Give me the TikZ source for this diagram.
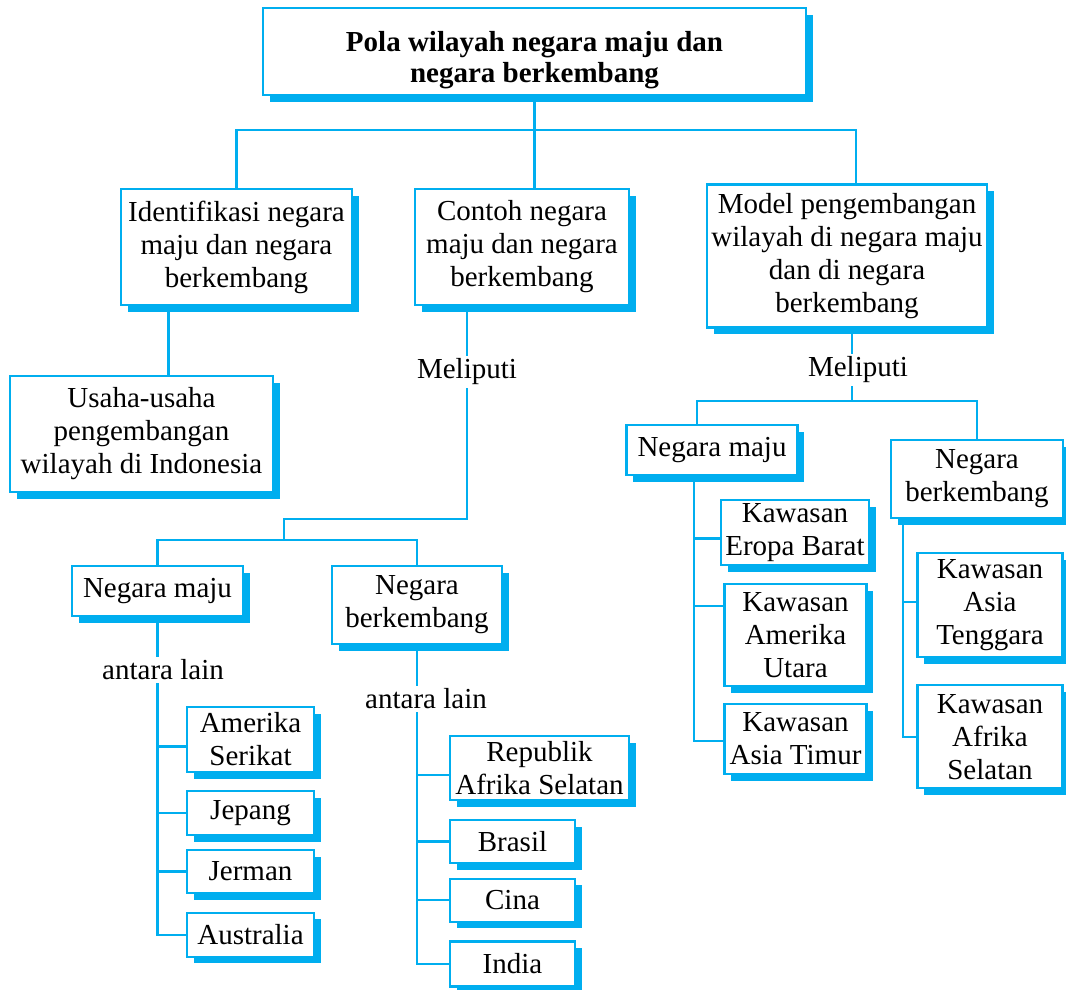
\documentclass[tikz,border=0pt]{standalone}
\usepackage{fontspec}
\setmainfont{Liberation Serif}
\usepackage{xcolor}
\usetikzlibrary{shadows,calc}
\definecolor{boxcyan}{RGB}{0,174,239}

\begin{document}
\begin{tikzpicture}[x=1pt,y=-1pt,
  font=\fontsize{29}{33}\selectfont,
  box/.style={draw=boxcyan,line width=2.2pt,fill=white,inner sep=0pt,align=center,
    drop shadow={shadow xshift=6.5pt,shadow yshift=-6.5pt,fill=boxcyan,opacity=1}},
  link/.style={draw=boxcyan,line width=2.2pt},
  lbl/.style={inner sep=3pt}]
  \useasboundingbox (0,0) rectangle (1066,989);
  % top level
  \node[box,minimum width=543pt,minimum height=87pt,text height=68pt,
    font=\bfseries\fontsize{29}{31}\selectfont]
    (title) at (534.5,51.5) {Pola wilayah negara maju dan\\negara berkembang};
  \node[box,minimum width=231pt,minimum height=116pt] (iden) at (236.5,247)
    {Identifikasi negara\\maju dan negara\\berkembang};
  \node[box,minimum width=214pt,minimum height=116pt] (contoh) at (522,247)
    {Contoh negara\\maju dan negara\\berkembang};
  \node[box,minimum width=280pt,minimum height=143pt] (model) at (847,256)
    {Model pengembangan\\wilayah di negara maju\\dan di negara\\berkembang};
  \node[box,minimum width=263pt,minimum height=116pt] (usaha) at (141.5,434)
    {Usaha-usaha\\pengembangan\\wilayah di Indonesia};
  % middle branch
  \node[lbl] (mel1) at (467,372) {Meliputi};
  \node[box,minimum width=171pt,minimum height=50pt] (nmL) at (157.5,591) {Negara maju};
  \node[box,minimum width=170pt,minimum height=78pt] (nbL) at (417,605) {Negara\\berkembang};
  \node[lbl] (ant1) at (163,670) {antara lain};
  \node[lbl] (ant2) at (426,699) {antara lain};
  \node[box,minimum width=127pt,minimum height=65pt] (amerika) at (250.5,739.5) {Amerika\\Serikat};
  \node[box,minimum width=127pt,minimum height=44pt] (jepang) at (250.5,813) {Jepang};
  \node[box,minimum width=127pt,minimum height=43pt] (jerman) at (250.5,871.5) {Jerman};
  \node[box,minimum width=127pt,minimum height=44pt] (australia) at (250.5,934.7) {Australia};
  \node[box,minimum width=179pt,minimum height=64pt] (republik) at (539.5,768) {Republik\\Afrika Selatan};
  \node[box,minimum width=125pt,minimum height=43pt] (brasil) at (512.5,841.5) {Brasil};
  \node[box,minimum width=125pt,minimum height=43pt] (cina) at (512.5,900.3) {Cina};
  \node[box,minimum width=125pt,minimum height=45pt] (india) at (512.5,964) {India};
  % right branch
  \node[lbl] (mel2) at (858,370) {Meliputi};
  \node[box,minimum width=171pt,minimum height=50pt] (nmR) at (712,450) {Negara maju};
  \node[box,minimum width=172pt,minimum height=78pt] (nbR) at (977,479) {Negara\\berkembang};
  \node[box,minimum width=148pt,minimum height=65pt] (eropa) at (795,532.5) {Kawasan\\Eropa Barat};
  \node[box,minimum width=142pt,minimum height=102pt] (amut) at (795.5,635) {Kawasan\\Amerika\\Utara};
  \node[box,minimum width=142pt,minimum height=70pt] (astim) at (795.5,739) {Kawasan\\Asia Timur};
  \node[box,minimum width=145pt,minimum height=104pt] (tenggara) at (990,605) {Kawasan\\Asia\\Tenggara};
  \node[box,minimum width=145pt,minimum height=103pt] (afsel) at (990,736.7) {Kawasan\\Afrika\\Selatan};

  % connectors
  \coordinate (top) at (534.5,130);
  \draw[link] (title) -- (top);
  \draw[link] (iden.north) |- (top) -| ([xshift=9pt]model.north);
  \draw[link] (top) -- (top |- contoh.north);
  \coordinate (u1) at ([xshift=-68pt]iden.south);
  \draw[link] (u1) -- (u1 |- usaha.north);

  \draw[link] (mel1 |- contoh.south) -- (mel1.north);
  \coordinate (j2) at (467,519);
  \coordinate (j3) at (284,540);
  \draw[link] (mel1.south) -- (j2) -| (j3);
  \draw[link] (nmL.north) |- (j3) -| (nbL.north);
  \draw[link] (nmL.south) -- (nmL.south |- ant1.north);
  \draw[link] (nmL.south |- ant1.south) |- (australia.west);
  \draw[link] ([yshift=-7pt]amerika.west) -- ([yshift=-7pt]amerika.west -| nmL.south);
  \foreach \n in {jepang,jerman}
    \draw[link] (\n.west) -- (\n.west -| nmL.south);
  \draw[link] (nbL.south) -- (nbL.south |- ant2.north);
  \draw[link] (nbL.south |- ant2.south) |- (india.west);
  \draw[link] ([yshift=-7pt]republik.west) -- ([yshift=-7pt]republik.west -| nbL.south);
  \foreach \n in {brasil,cina}
    \draw[link] (\n.west) -- (\n.west -| nbL.south);

  \coordinate (j4) at (852,401);
  \draw[link] (j4 |- model.south) -- (j4 |- mel2.north);
  \draw[link] (j4 |- mel2.south) -- (j4);
  \draw[link] ([xshift=-15pt]nmR.north) |- (j4) -| (nbR.north);
  \coordinate (v1) at ([xshift=-18pt]nmR.south);
  \draw[link] (v1) |- ([yshift=-2pt]astim.west);
  \draw[link] ([yshift=-6pt]eropa.west) -- ([yshift=-6pt]eropa.west -| v1);
  \draw[link] ([yshift=29pt]amut.west) -- ([yshift=29pt]amut.west -| v1);
  \coordinate (v2) at ([xshift=-74pt]nbR.south);
  \draw[link] (v2) |- (afsel.west);
  \draw[link] ([yshift=3pt]tenggara.west) -- ([yshift=3pt]tenggara.west -| v2);
\end{tikzpicture}
\end{document}
